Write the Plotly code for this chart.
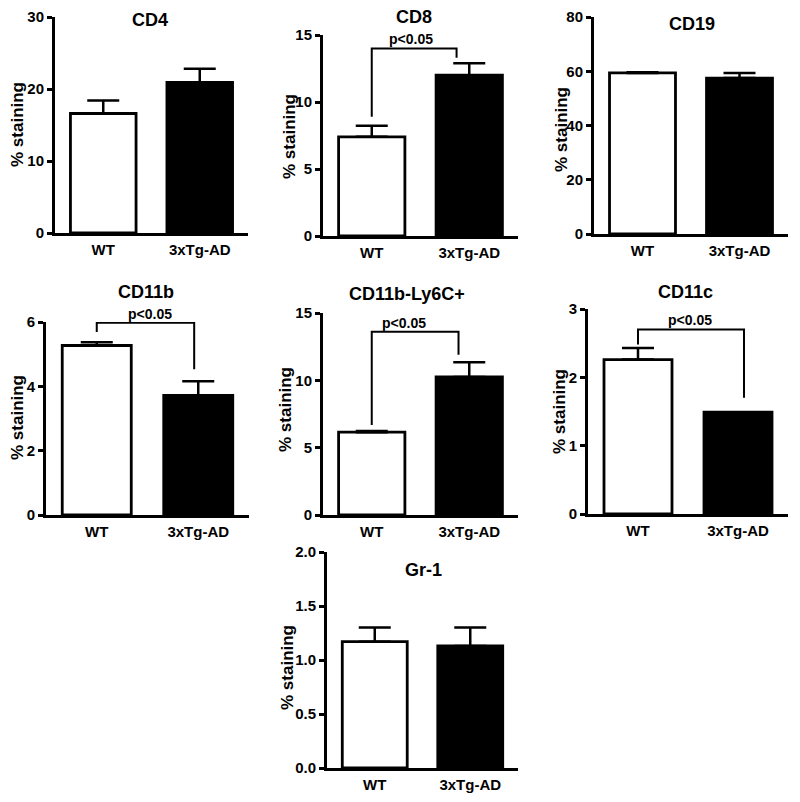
import plotly.graph_objects as go

# the page body adds an 8px margin: size the figure so the page is 800x802
OFF = 8
FW, FH = 784, 786

categories = ["WT", "3xTg-AD"]
panel_titles = ["CD4", "CD8", "CD19", "CD11b", "CD11b-Ly6C+", "CD11c", "Gr-1"]
means_wt = [16.6, 7.4, 59.4, 5.27, 6.15, 2.26, 1.17]
means_tg = [20.9, 12.0, 57.5, 3.72, 10.25, 1.49, 1.13]
sem_wt = [1.8, 0.82, 0.25, 0.1, 0.08, 0.17, 0.13]
sem_tg = [1.9, 0.9, 1.9, 0.44, 1.1, 0.0, 0.17]
y_max = [30, 15, 80, 6, 15, 3, 2.0]
y_dtick = [10, 5, 20, 2, 5, 1, 0.5]
y_tickformat = ["", "", "", "", "", "", ".1f"]

# significance brackets (panel index, data coords)
sig_panels = [1, 3, 4, 5]
sig_x_left = [0.0, 0.0, 0.0, 0.0]
sig_x_right = [0.87, 0.96, 0.89, 1.06]
sig_y_top = [14.0, 5.98, 13.6, 2.70]
sig_y_left = [8.9, 5.69, 6.68, 2.48]
sig_y_right = [13.3, 4.53, 11.9, 1.70]
sig_label_x = [0.40, 0.52, 0.33, 0.52]
sig_text = "p<0.05"

# panel geometry in page pixels: (x_left, x_right, y_zero, y_top)
panel_box = [
    (55, 248, 233, 17),
    (323, 518, 236, 35),
    (594, 788, 234, 17),
    (46, 249, 515, 322),
    (323, 518, 515, 313),
    (588, 788, 514, 309),
    (327, 518, 768, 552),
]
title_pos = [(150, 20), (414, 17), (692, 24), (146, 292), (407, 294), (685, 292), (423, 570)]
ytitle_pos = [(18, 125), (289, 137), (561, 130), (17, 418), (286, 410), (559, 412), (287, 668)]

FONT = "Liberation Sans, Arial, sans-serif"

def px(x):
    return (x - OFF) / FW

def py(y):
    return 1 - (y - OFF) / FH

xpos = list(range(len(categories)))

fig = go.Figure()
layout = dict(
    width=FW, height=FH, margin=dict(l=0, r=0, t=0, b=0, pad=0, autoexpand=False),
    paper_bgcolor="white", plot_bgcolor="white", showlegend=False,
    font=dict(family=FONT, color="black", weight="bold"),
    annotations=[],
)

for i, title in enumerate(panel_titles):
    n = i + 1
    xa = "x" if n == 1 else f"x{n}"
    ya = "y" if n == 1 else f"y{n}"
    xl, xr, yz, yt = panel_box[i]
    fig.add_trace(go.Bar(
        x=xpos, y=[means_wt[i], means_tg[i]],
        xaxis=xa, yaxis=ya, width=0.68,
        marker=dict(color=["white", "black"], line=dict(color="black", width=2.8)),
        error_y=dict(type="data", array=[sem_wt[i], sem_tg[i]], arrayminus=[0, 0],
                     symmetric=False, color="black", thickness=2.5, width=16),
        cliponaxis=False, hoverinfo="skip",
    ))
    xkey = "xaxis" if n == 1 else f"xaxis{n}"
    ykey = "yaxis" if n == 1 else f"yaxis{n}"
    layout[xkey] = dict(
        domain=[px(xl), px(xr)], anchor=ya, automargin=False,
        range=[-0.5, 1.5], tickvals=xpos, ticktext=categories,
        showline=True, linewidth=3, linecolor="black",
        ticks="", ticklen=0, ticklabelstandoff=1,
        showgrid=False, zeroline=False, fixedrange=True,
        tickfont=dict(family=FONT, size=15, color="black", weight="bold"),
    )
    layout[ykey] = dict(
        domain=[py(yz), py(yt)], anchor=xa, automargin=False, range=[0, y_max[i]],
        dtick=y_dtick[i], tick0=0, tickformat=y_tickformat[i],
        showline=True, linewidth=3, linecolor="black",
        ticks="outside", ticklen=5, tickwidth=2.5, tickcolor="black",
        showgrid=False, zeroline=False, fixedrange=True,
        tickfont=dict(family=FONT, size=15, color="black", weight="bold"),
    )
    tx, ty = title_pos[i]
    layout["annotations"].append(dict(
        text=title, x=px(tx), y=py(ty), xref="paper", yref="paper",
        showarrow=False, xanchor="center", yanchor="middle", borderpad=0,
        font=dict(family=FONT, size=18, color="black", weight="bold"),
    ))
    yx, yy = ytitle_pos[i]
    layout["annotations"].append(dict(
        text="% staining", x=px(yx), y=py(yy), xref="paper", yref="paper",
        showarrow=False, xanchor="center", yanchor="middle", textangle=-90,
        font=dict(family=FONT, size=17, color="black", weight="bold"),
    ))

for k, p in enumerate(sig_panels):
    n = p + 1
    xa = "x" if n == 1 else f"x{n}"
    ya = "y" if n == 1 else f"y{n}"
    fig.add_trace(go.Scatter(
        x=[sig_x_left[k], sig_x_left[k], sig_x_right[k], sig_x_right[k]],
        y=[sig_y_left[k], sig_y_top[k], sig_y_top[k], sig_y_right[k]],
        mode="lines", line=dict(color="black", width=2),
        xaxis=xa, yaxis=ya, cliponaxis=False, hoverinfo="skip",
    ))
    layout["annotations"].append(dict(
        text=sig_text, x=sig_label_x[k], y=sig_y_top[k], xref=xa, yref=ya,
        showarrow=False, xanchor="center", yanchor="middle", yshift=9,
        font=dict(family=FONT, size=14, color="black", weight="bold"),
    ))

fig.update_layout(**layout)
fig.write_html("out.html")
